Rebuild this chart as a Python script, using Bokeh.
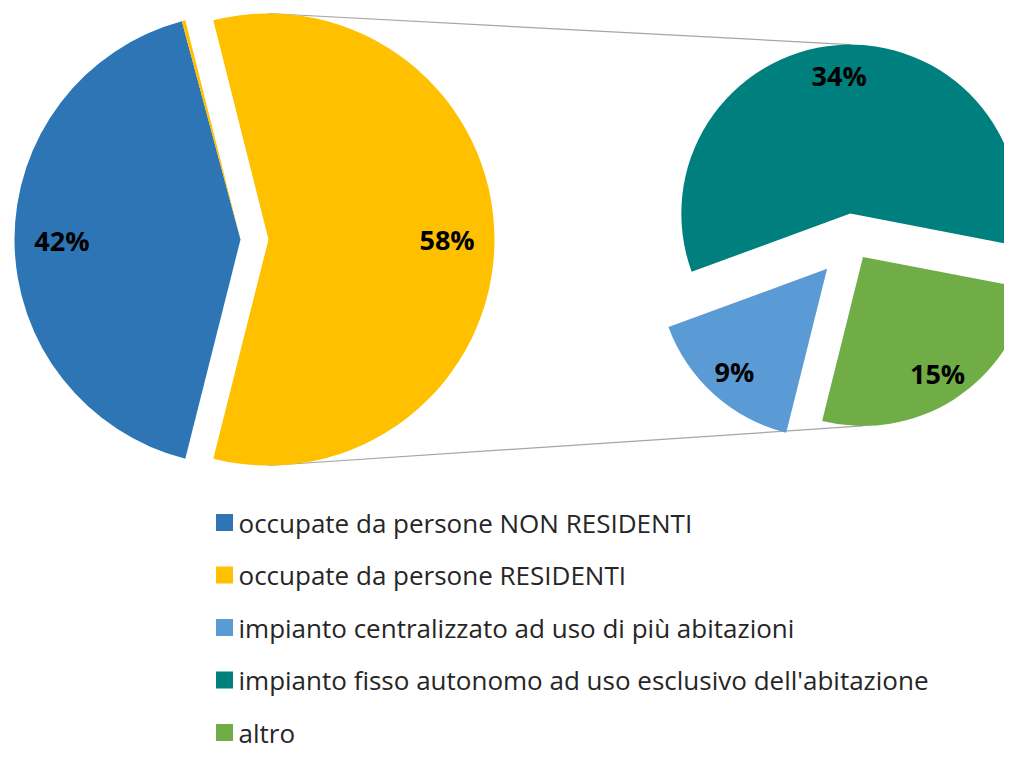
import math
from bokeh.plotting import figure
from bokeh.models import Range1d
from bokeh.core.properties import value
from bokeh.embed import file_html
from bokeh.resources import INLINE

# ---------------- data ----------------
main_labels = ["occupate da persone NON RESIDENTI", "occupate da persone RESIDENTI"]
main_values = [42, 0.25]
sub_labels = ["impianto centralizzato ad uso di più abitazioni",
              "impianto fisso autonomo ad uso esclusivo dell'abitazione",
              "altro"]
sub_values = [9, 34, 15]

# ---------------- styles ----------------
main_colors = ["#2E75B6", "#FFC000"]
sub_colors = ["#5B9BD5", "#007F7F", "#70AD47"]
other_color = "#FFC000"
sub_explode = [38, 27, 19.5]

W, H = 1004, 755
def Y(sy):
    return H - sy

p = figure(width=W, height=H, x_range=Range1d(0, W), y_range=Range1d(0, H),
           output_backend="svg", toolbar_location=None,
           x_axis_location=None, y_axis_location=None, min_border=0)
p.outline_line_color = None
p.xgrid.visible = False
p.ygrid.visible = False
p.background_fill_color = "white"

total = sum(main_values) + sum(sub_values)
other_total = sum(sub_values)
label_font = value("Open Sans")
pct_size = "27px"

# ----- left pie -----
L_CX, L_CY, L_R = 240, Y(239), 226
other_explode = 28
other_span = other_total / total * 2 * math.pi
OX, OY = L_CX + other_explode, L_CY

# ----- right pie -----
R_CX, R_CY, R_R = 852, Y(240), 169
start_deg = 256

sub_slices = []
cur = math.radians(start_deg)
for v, c, d in zip(sub_values, sub_colors, sub_explode):
    span = v / other_total * 2 * math.pi
    s, e = cur - span, cur
    mid = (s + e) / 2
    cx = R_CX + d * math.cos(mid)
    cy = R_CY + d * math.sin(mid)
    sub_slices.append((cx, cy, s, e, mid, c, v))
    cur = s

# connector lines (drawn under the pies)
teal = sub_slices[1]
green = sub_slices[2]
p.line([OX, teal[0]], [OY + L_R, teal[1] + R_R], line_color="#A6A6A6", line_width=1.2)
p.line([OX, green[0]], [OY - L_R, green[1] - R_R], line_color="#A6A6A6", line_width=1.2)

# left pie slices (clockwise from the lower edge of the "other" slice)
cur = -other_span / 2
for v, c in zip(main_values, main_colors):
    span = v / total * 2 * math.pi
    s, e = cur - span, cur
    p.wedge(x=L_CX, y=L_CY, radius=L_R, start_angle=s, end_angle=e,
            fill_color=c, line_color=None)
    if v / total >= 0.01:
        mid = (s + e) / 2
        p.text(x=[L_CX + 0.79 * L_R * math.cos(mid)], y=[L_CY + 0.79 * L_R * math.sin(mid)],
               text=[f"{round(v / total * 100)}%"], text_align="center", text_baseline="middle",
               text_font=label_font, text_font_style="bold", text_font_size=pct_size,
               text_color="black")
    cur = s

# "other" slice (exploded)
p.wedge(x=OX, y=OY, radius=L_R, start_angle=-other_span / 2, end_angle=other_span / 2,
        fill_color=other_color, line_color=None)
p.text(x=[OX + 0.79 * L_R], y=[OY], text=[f"{round(other_total / total * 100)}%"],
       text_align="center", text_baseline="middle", text_font=label_font,
       text_font_style="bold", text_font_size=pct_size, text_color="black")

for cx, cy, s, e, mid, c, v in sub_slices:
    p.wedge(x=cx, y=cy, radius=R_R, start_angle=s, end_angle=e, fill_color=c, line_color=None)
    p.text(x=[cx + 0.82 * R_R * math.cos(mid)], y=[cy + 0.82 * R_R * math.sin(mid)],
           text=[f"{round(v / total * 100)}%"], text_align="center", text_baseline="middle",
           text_font=label_font, text_font_style="bold", text_font_size=pct_size,
           text_color="black")

# ----- legend -----
leg_labels = main_labels + sub_labels
leg_colors = main_colors + sub_colors
row0, step = 522, 52.5
for i, (lab, col) in enumerate(zip(leg_labels, leg_colors)):
    yy = Y(row0 + i * step)
    p.rect(x=[224], y=[yy], width=17, height=17, fill_color=col, line_color=None)
    p.text(x=[238], y=[yy], text=[lab], text_align="left", text_baseline="middle",
           text_font=label_font, text_font_size="26px", text_color="#262626")

open("out.html", "w").write(file_html(p, INLINE))
